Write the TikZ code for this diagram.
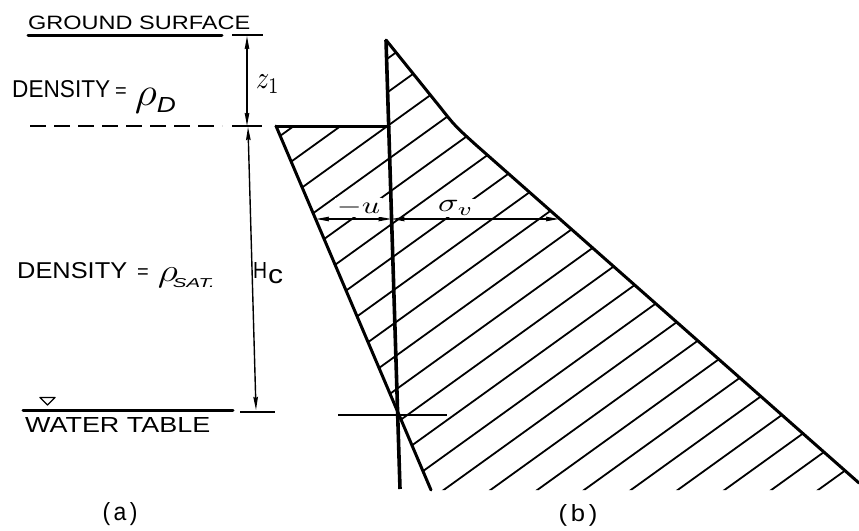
\documentclass[tikz,border=0pt]{standalone}
\usepackage{graphicx}
\usepackage{fontspec}
\setmainfont{Liberation Sans}
\usetikzlibrary{arrows.meta}
\begin{document}
\begin{tikzpicture}[x=1pt,y=-1pt,
  >={Stealth[length=13pt,width=4.5pt,inset=1pt]},
  axisline/.style={line width=3.6pt},
  thickline/.style={line width=3pt, line cap=round, line join=round},
  hatchline/.style={line width=1.8pt},
  dimline/.style={line width=1.4pt},
  tickline/.style={line width=1.4pt},
  lbl/.style={font=\fontsize{20}{24}\selectfont, inner sep=0pt},
  mlbl/.style={inner sep=1.5pt, fill=white},
  ]
\useasboundingbox (0,0) rectangle (859,530);

% key coordinates
\coordinate (A) at (386,40);    % top of axis
\coordinate (B) at (400,489);   % bottom of axis
\coordinate (K) at (455,126);   % kink of sigma_v line
\coordinate (E) at (859,483);   % end of sigma_v line
\coordinate (L0) at (276,126);  % top-left of -u line
\coordinate (L1) at (431,490);  % bottom of -u line
\coordinate (T1) at (389,126);  % axis at z1
\coordinate (UL) at (316,219);  % -u arrow left
\coordinate (UA) at (391.5,219);% axis at arrow level
\coordinate (SR) at (559,219);  % sigma_v arrow right

% hatching
\begin{scope}
\clip (A) -- (440,107) .. controls (K) .. (476,145) -- (E) -- (859,490) -- (L1) -- (L0) -- (T1) -- cycle;
\foreach \k in {-4,...,21} {
  \pgfmathsetmacro\cc{405+33.7*\k}
  \draw[hatchline] (260,{\cc-0.72*260}) -- (870,{\cc-0.72*870});
}
\end{scope}

% outlines of (b)
\draw[thickline] (A) -- (440,107) .. controls (K) .. (476,145) -- (E);
\draw[thickline] (L0) -- (T1);
\draw[thickline] (L0) -- (L1);
\draw[axisline] (A) -- (B);

% water table tick in (b)
\coordinate (W0) at (338,415);
\coordinate (W1) at (447,415);
\draw[tickline] (W0) -- (W1);

% -u and sigma_v dimension arrows
\draw[dimline,<->] (UL) -- (UA);
\draw[dimline,<->] (UA) -- (SR);
\node[mlbl] (mu) at (358.5,207) {\scalebox{3.2}[2.4]{$-u$}};
\node[mlbl] (sv) at (456,208) {\scalebox{3.4}[2.6]{$\sigma_{v}$}};

% ---- part (a) ----
\node[lbl, anchor=south west] (gs) at (28,30) {\resizebox{222pt}{13.5pt}{GROUND SURFACE}};
\coordinate (G0) at (28,35);
\coordinate (G1) at (222,35);
\draw[thickline] (G0) -- (G1);
\coordinate (GT0) at (232,35);
\coordinate (GT1) at (263,35);
\draw[line width=2pt] (GT0) -- (GT1);

\node[lbl, anchor=base west] (d1) at (12,97) {\resizebox{98pt}{17pt}{DENSITY}\hspace{5pt}=\hspace{8pt}\raisebox{-8pt}{\resizebox*{22pt}{25pt}{$\rho$}}\raisebox{-15pt}{\resizebox{19pt}{15pt}{\itshape D}}};

\coordinate (D0) at (30,126);
\coordinate (D1) at (222,126);
\draw[line width=2pt, dash pattern=on 16pt off 8pt] (D0) -- (D1);
\coordinate (DT0) at (232,126);
\coordinate (DT1) at (262,126);
\draw[tickline] (DT0) -- (DT1);

% z1 dimension
\coordinate (Z0) at (247,36);
\coordinate (Z1) at (247,126);
\draw[dimline,<->] (Z0) -- (Z1);
\node[inner sep=0pt] (z1) at (268,84) {\scalebox{2.6}[3.2]{$z_{1}$}};

% Hc dimension
\coordinate (H0) at (248,127);
\coordinate (H1) at (256,410);
\draw[dimline,<->] (H0) -- (H1);
\coordinate (HT0) at (240,412);
\coordinate (HT1) at (275,412);
\draw[tickline] (HT0) -- (HT1);
\node[lbl, anchor=base west] (hc) at (253,278) {\resizebox{14pt}{16pt}{H}\kern1pt\raisebox{-5pt}{\resizebox{15pt}{14pt}{c}}};

\node[lbl, anchor=base west] (d2) at (17,278) {\resizebox{110pt}{16pt}{DENSITY}\hspace{10pt}=\hspace{9pt}\raisebox{-3pt}{\resizebox*{20pt}{20pt}{$\rho$}}\kern-5pt\raisebox{-9pt}{\resizebox{42pt}{9pt}{\itshape SAT.}}};

% water table
\coordinate (WT0) at (23,410);
\coordinate (WT1) at (233,410);
\draw[thickline] (WT0) -- (WT1);
\coordinate (TRa) at (40,397.5);
\coordinate (TRb) at (55,397.5);
\coordinate (TRc) at (47.5,405);
\draw[line width=1.4pt, line join=round] (TRa) -- (TRb) -- (TRc) -- cycle;
\node[lbl, anchor=south west] (wt) at (25,433) {\resizebox{185pt}{15pt}{WATER TABLE}};

% captions
\node[lbl] (capa) at (120,514) {\resizebox{35pt}{18pt}{(\kern3pt a\kern3pt)}};
\node[lbl] (capb) at (578,515) {\resizebox{39pt}{17pt}{(\kern3pt b\kern3pt)}};
\end{tikzpicture}
\end{document}
